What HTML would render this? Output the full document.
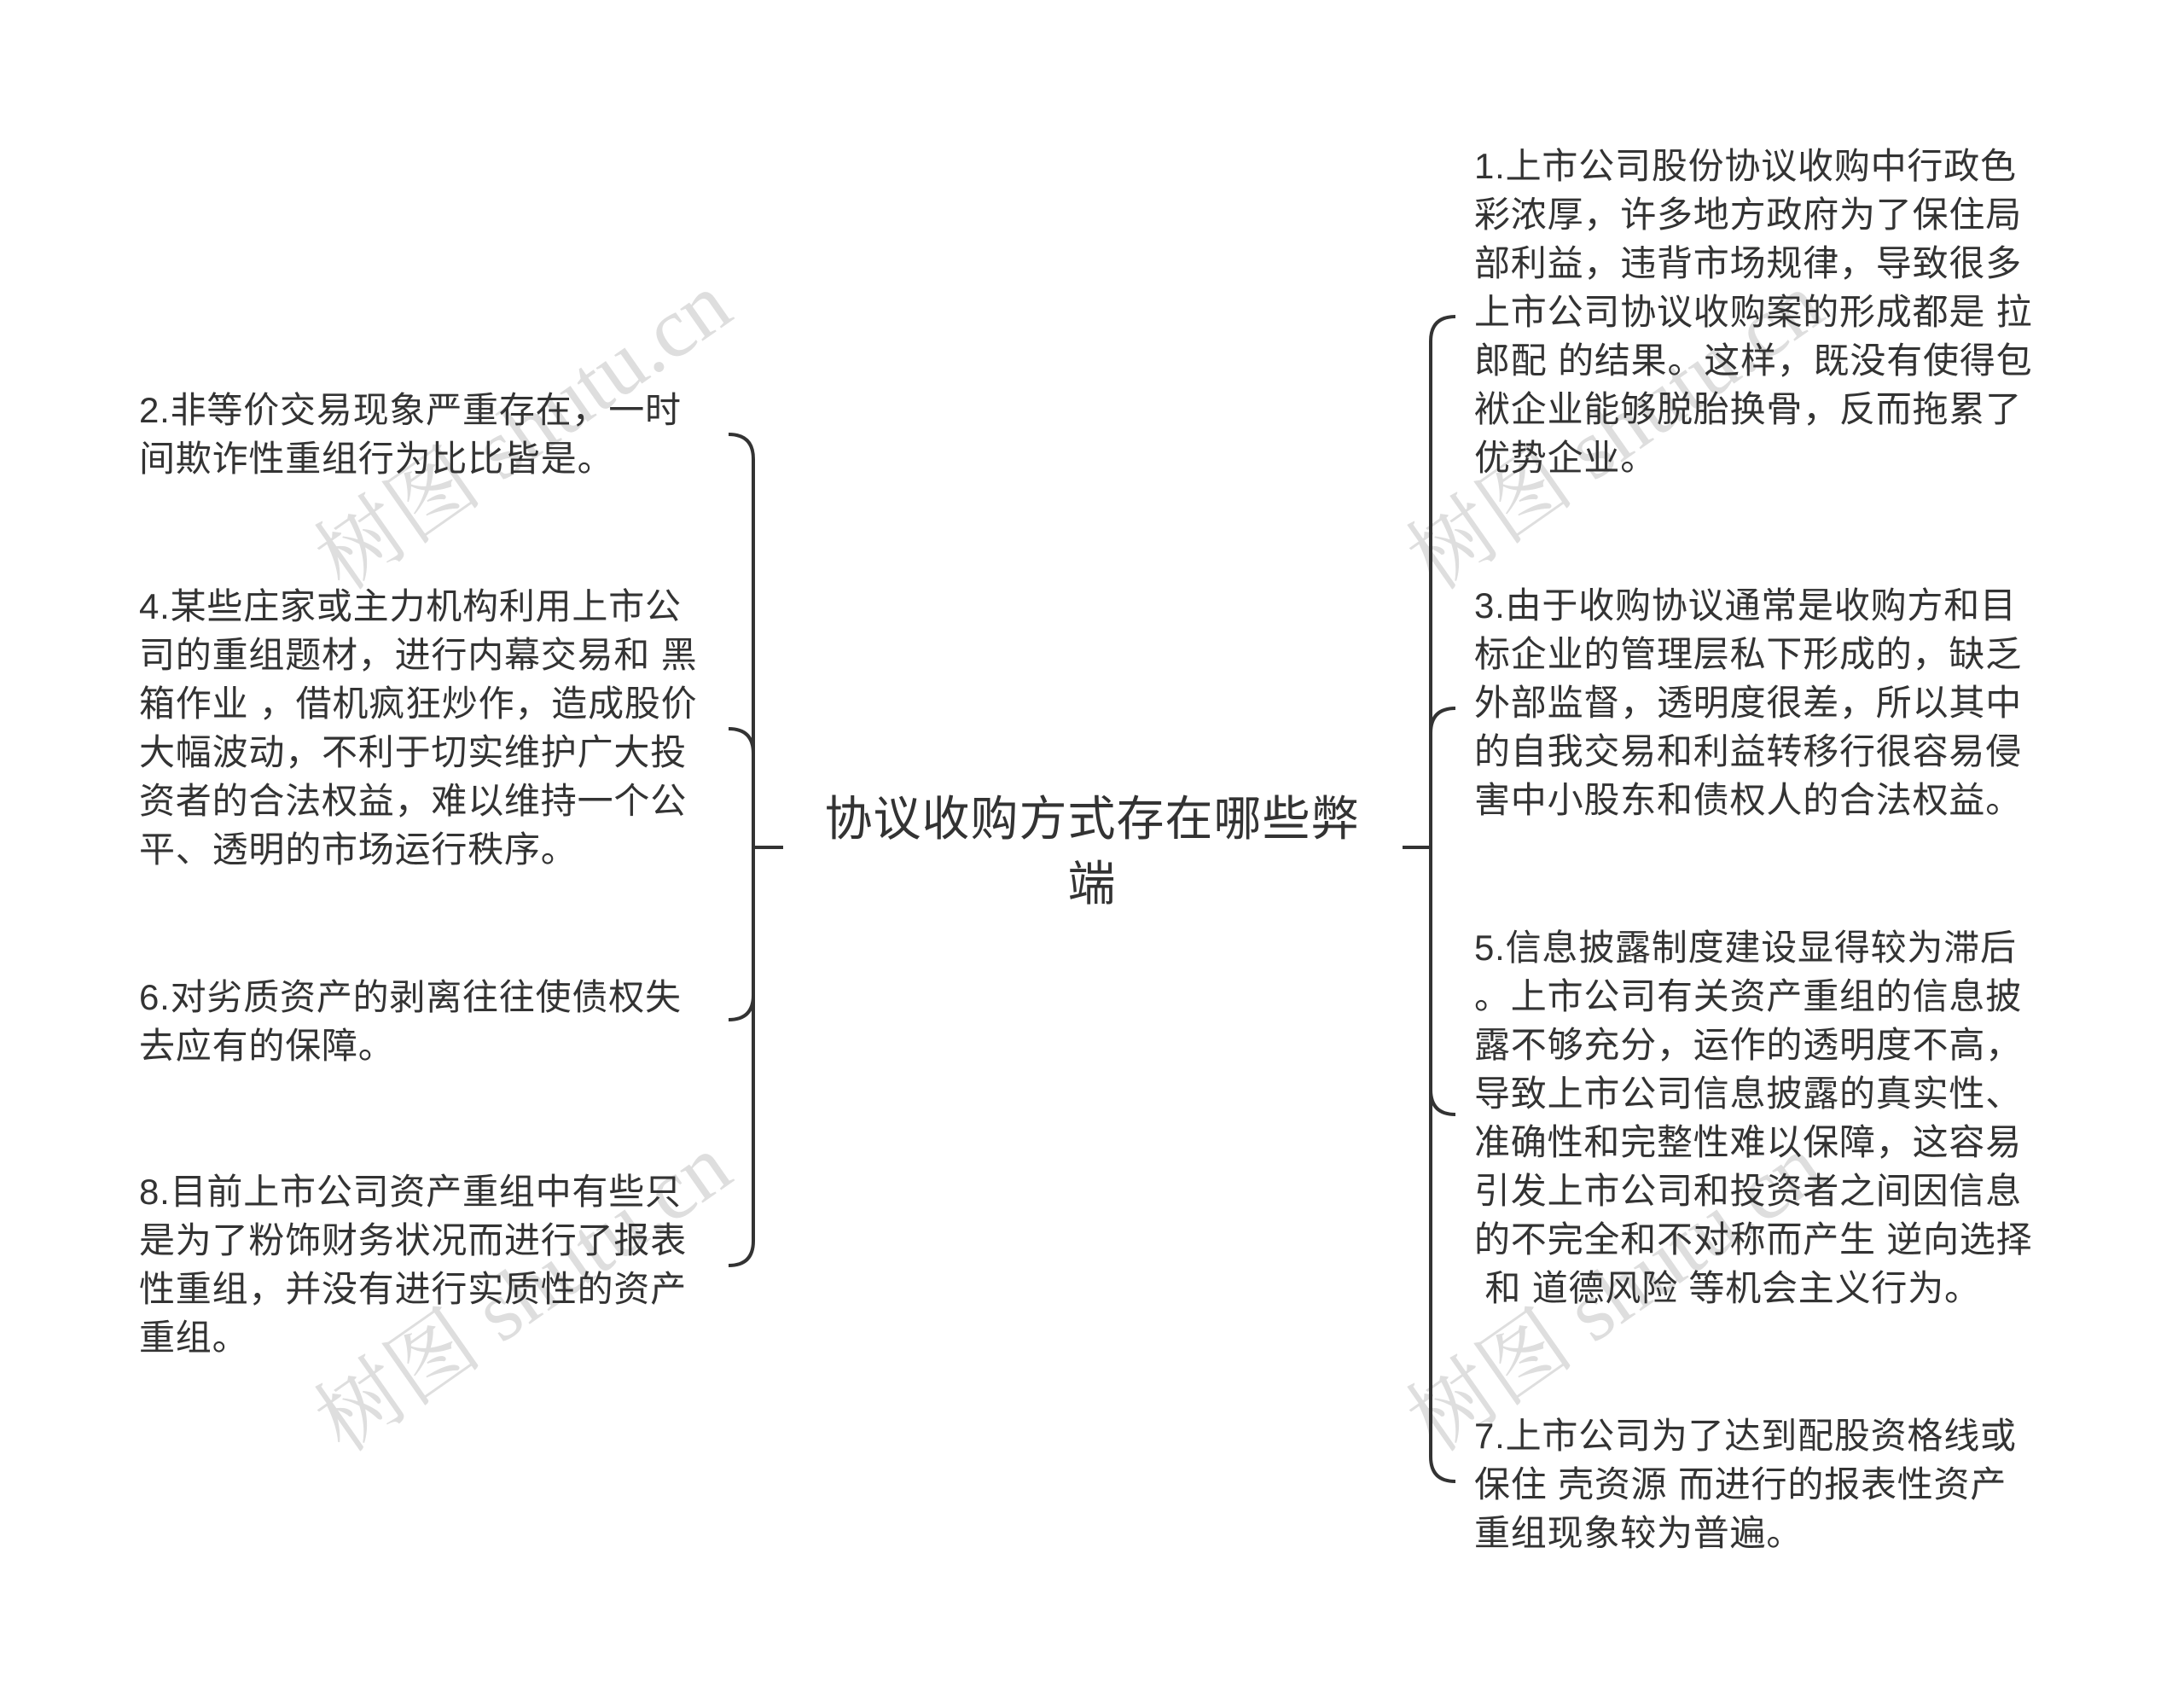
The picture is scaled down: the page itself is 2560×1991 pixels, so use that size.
<!DOCTYPE html>
<html><head><meta charset="utf-8"><style>
html,body{margin:0;padding:0;background:#fff;}
#c{position:relative;width:2560px;height:1991px;overflow:hidden;background:#fff;font-family:"Liberation Sans","Noto Sans CJK SC",sans-serif;color:#333;}
.t{position:absolute;font-size:42px;line-height:57px;white-space:nowrap;letter-spacing:0.8px;}
.wm{position:absolute;font-family:"Liberation Serif","Noto Serif CJK SC",serif;font-size:100px;color:#dedede;transform:rotate(-35deg);transform-origin:left top;white-space:nowrap;}
</style></head><body><div id="c">
<div class="wm" style="left:337px;top:600px;">树图 shutu.cn</div>
<div class="wm" style="left:337px;top:1610px;">树图 shutu.cn</div>
<div class="wm" style="left:1617px;top:600px;">树图 shutu.cn</div>
<div class="wm" style="left:1617px;top:1610px;">树图 shutu.cn</div>
<svg width="2560" height="1991" style="position:absolute;left:0;top:0" fill="none" stroke="#333" stroke-width="4">
<path d="M854 509 Q883 509 883 538 L883 1454 Q883 1483 854 1483"/>
<path d="M854 854 Q883 854 883 883"/>
<path d="M854 1195 Q883 1195 883 1166"/>
<path d="M883 993 L918 993"/>
<path d="M1706 371 Q1677 371 1677 400 L1677 1707 Q1677 1736 1706 1736"/>
<path d="M1706 830 Q1677 830 1677 859"/>
<path d="M1706 1306 Q1677 1306 1677 1277"/>
<path d="M1644 993 L1677 993"/>
</svg>
<div class="t" style="left:163px;top:452px;">2.非等价交易现象严重存在，一时<br>间欺诈性重组行为比比皆是。</div>
<div class="t" style="left:163px;top:682px;">4.某些庄家或主力机构利用上市公<br>司的重组题材，进行内幕交易和 黑<br>箱作业 ，借机疯狂炒作，造成股价<br>大幅波动，不利于切实维护广大投<br>资者的合法权益，难以维持一个公<br>平、透明的市场运行秩序。</div>
<div class="t" style="left:163px;top:1140px;">6.对劣质资产的剥离往往使债权失<br>去应有的保障。</div>
<div class="t" style="left:163px;top:1368px;">8.目前上市公司资产重组中有些只<br>是为了粉饰财务状况而进行了报表<br>性重组，并没有进行实质性的资产<br>重组。</div>
<div class="t" style="left:1728px;top:166px;">1.上市公司股份协议收购中行政色<br>彩浓厚，许多地方政府为了保住局<br>部利益，违背市场规律，导致很多<br>上市公司协议收购案的形成都是 拉<br>郎配 的结果。这样，既没有使得包<br>袱企业能够脱胎换骨，反而拖累了<br>优势企业。</div>
<div class="t" style="left:1728px;top:681px;">3.由于收购协议通常是收购方和目<br>标企业的管理层私下形成的，缺乏<br>外部监督，透明度很差，所以其中<br>的自我交易和利益转移行很容易侵<br>害中小股东和债权人的合法权益。</div>
<div class="t" style="left:1728px;top:1082px;">5.信息披露制度建设显得较为滞后<br>。上市公司有关资产重组的信息披<br>露不够充分，运作的透明度不高，<br>导致上市公司信息披露的真实性、<br>准确性和完整性难以保障，这容易<br>引发上市公司和投资者之间因信息<br>的不完全和不对称而产生 逆向选择<br>&nbsp;和 道德风险 等机会主义行为。</div>
<div class="t" style="left:1728px;top:1654px;">7.上市公司为了达到配股资格线或<br>保住 壳资源 而进行的报表性资产<br>重组现象较为普遍。</div>
<div style="position:absolute;left:930px;top:922px;width:700px;text-align:center;font-size:56px;line-height:76px;letter-spacing:1px;">协议收购方式存在哪些弊<br>端</div>
</div></body></html>
